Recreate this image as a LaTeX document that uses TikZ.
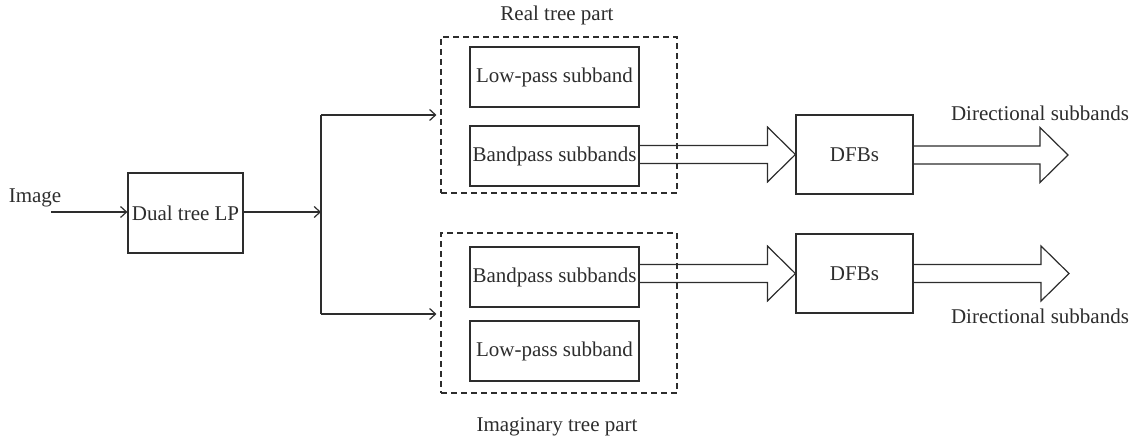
\documentclass[tikz,border=0pt]{standalone}
\usepackage{fontspec}
\setmainfont{Liberation Serif}
\usetikzlibrary{arrows.meta,calc}
\definecolor{ink}{RGB}{45,45,45}
\tikzset{
  line/.style={draw=ink,line width=1.2pt},
  blk/.style={line,rectangle,inner sep=0pt,text=ink,font=\fontsize{21}{24}\selectfont},
  dbox/.style={draw=ink,line width=1.1pt,dash pattern=on 6pt off 4pt,rectangle,inner sep=0pt},
  lbl/.style={text=ink,font=\fontsize{21}{24}\selectfont,inner sep=0pt,anchor=base},
  thin/.style={line,-{Straight Barb[length=6pt,width=11pt]}}
}
\newcommand\fatarrow[2]{%
  \draw[line,line join=miter] let \p1=(#1), \p2=(#2) in
    (\x1,\y2+9) -- (\x2-28,\y2+9) -- (\x2-28,\y2+27.5) -- (\p2)
    -- (\x2-28,\y2-27.5) -- (\x2-28,\y2-9) -- (\x1,\y2-9);}
\begin{document}
\begin{tikzpicture}[x=1pt,y=-1pt]
\useasboundingbox (0,0) rectangle (1138,441);
% labels
\node[lbl] (img) at (35,202) {Image};
\node[lbl] (rtl) at (557,21) {Real tree part};
\node[lbl] (itl) at (557,431) {Imaginary tree part};
\node[lbl] (ds1) at (1040,121) {Directional subbands};
\node[lbl] (ds2) at (1040,323) {Directional subbands};
% blocks
\node[blk,minimum width=115pt,minimum height=80pt] (dual) at (185.5,213) {Dual tree LP};
\node[dbox,minimum width=236pt,minimum height=156pt] (rt) at (559,115) {};
\node[dbox,minimum width=236pt,minimum height=160pt] (it) at (559,313) {};
\node[blk,minimum width=169pt,minimum height=60pt] (lp1) at (554.5,77) {Low-pass subband};
\node[blk,minimum width=169pt,minimum height=60pt] (bp1) at (554.5,156) {Bandpass subbands};
\node[blk,minimum width=169pt,minimum height=60pt] (bp2) at (554.5,277) {Bandpass subbands};
\node[blk,minimum width=169pt,minimum height=60pt] (lp2) at (554.5,351) {Low-pass subband};
\node[blk,minimum width=117pt,minimum height=79pt] (dfb1) at (854.5,154.5) {DFBs};
\node[blk,minimum width=117pt,minimum height=79pt] (dfb2) at (854.5,273.5) {DFBs};
% points
\coordinate (in) at (51,212);
\coordinate (sp) at (321,212);
\coordinate (spt) at (321,115);
\coordinate (spb) at (321,314);
\coordinate (t1) at (1068,155);
\coordinate (t2) at (1069,273.5);
% connectors
\draw[thin] (in) -- (in -| dual.west);
\draw[thin] (dual.east |- sp) -- (sp);
\draw[line] (spt) -- (spb);
\draw[thin] (spt) -- ([xshift=-4pt]rt.west |- spt);
\draw[thin] (spb) -- ([xshift=-4pt]it.west |- spb);
\fatarrow{bp1.east}{dfb1.west}
\fatarrow{bp2.east}{dfb2.west}
\fatarrow{dfb1.east}{t1}
\fatarrow{dfb2.east}{t2}
\end{tikzpicture}
\end{document}
